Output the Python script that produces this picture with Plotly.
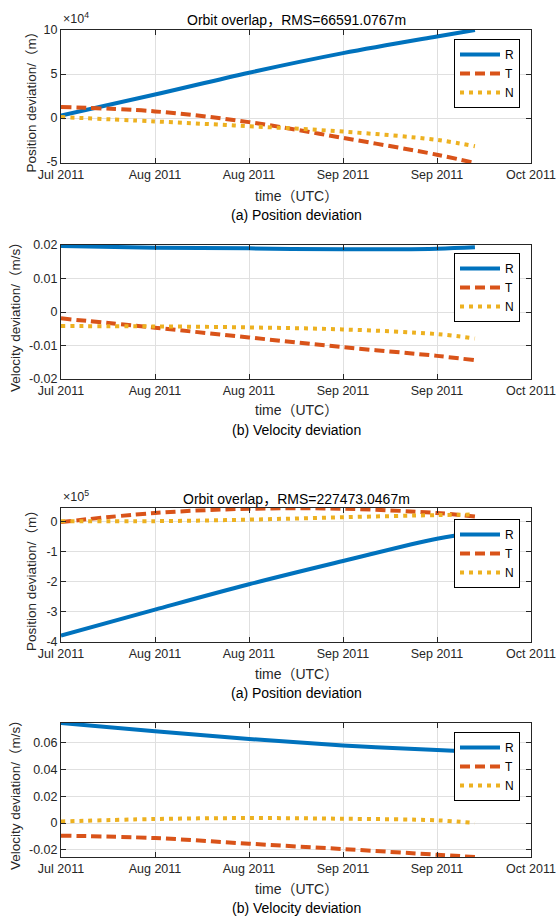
import plotly.graph_objects as go

# ---------------- data ----------------
epochs = ["2011-07-20 00:00", "2011-08-03 14:24", "2011-08-18 04:48",
          "2011-09-01 19:12", "2011-09-16 09:36", "2011-09-22 07:00"]

# case 1 position deviation (m)
p1_R = [3000, 26700, 51500, 73700, 92700, 100000]
p1_T = [12600, 7600, -4600, -22500, -41600, -51000]
p1_N = [1100, -3800, -9200, -15300, -24800, -32000]
# case 1 velocity deviation (m/s)
v1_R = [0.0197, 0.0192, 0.0190, 0.0187, 0.0189, 0.0193]
v1_T = [-0.0019, -0.0047, -0.0076, -0.0105, -0.0131, -0.0144]
v1_N = [-0.0042, -0.0043, -0.0046, -0.0052, -0.0066, -0.0079]
# case 2 position deviation (m)
p2_R = [-379000, -293000, -209000, -132000, -58000, -40000]
p2_T = [-3000, 27000, 41000, 41000, 27000, 15000]
p2_N = [0, 0, 5000, 13000, 20000, 22000]
# case 2 velocity deviation (m/s)
v2_R = [0.0745, 0.0683, 0.0626, 0.0578, 0.0543, 0.0530]
v2_T = [-0.0094, -0.0112, -0.0154, -0.0194, -0.0236, -0.0253]
v2_N = [0.0012, 0.0030, 0.0037, 0.0032, 0.0020, 0.0000]

series_names = ["R", "T", "N"]
titles = ["Orbit overlap，RMS=66591.0767m", None, "Orbit overlap，RMS=227473.0467m", None]
ylabels = ["Position deviation/（m）", "Velocity deviation/（m/s）",
           "Position deviation/（m）", "Velocity deviation/（m/s）"]
xlabel = "time（UTC）"
subtitles = ["(a) Position deviation", "(b) Velocity deviation",
             "(a) Position deviation", "(b) Velocity deviation"]
exponents = ["×10<sup>4</sup>", None, "×10<sup>5</sup>", None]

xtick_vals = ["2011-07-20 00:00", "2011-08-03 14:24", "2011-08-18 04:48",
              "2011-09-01 19:12", "2011-09-16 09:36", "2011-10-01 00:00"]

y_ticks = [
    ([-50000, 0, 50000, 100000], ["-5", "0", "5", "10"]),
    ([-0.02, -0.01, 0, 0.01, 0.02], ["-0.02", "-0.01", "0", "0.01", "0.02"]),
    ([-400000, -300000, -200000, -100000, 0], ["-4", "-3", "-2", "-1", "0"]),
    ([-0.02, 0, 0.02, 0.04, 0.06], ["-0.02", "0", "0.02", "0.04", "0.06"]),
]
y_ranges = [[-51000, 100000], [-0.02, 0.02], [-400000, 43500], [-0.0253, 0.0745]]

panels = [(p1_R, p1_T, p1_N), (v1_R, v1_T, v1_N), (p2_R, p2_T, p2_N), (v2_R, v2_T, v2_N)]

# ---------------- layout helpers ----------------
W, H = 556, 918
def px(x): return x / W
def py(y): return 1 - y / H

plot_left, plot_right = 61, 531
plot_tb = [(30, 163), (245, 379), (508, 642), (723, 857)]
legend_top = [39, 253, 519, 732]
title_y = [20.5, None, 499, None]
xtitle_y = [196, 410, 674, 889]
sub_y = [215, 430, 693, 908]
ylabel_x = [31, 15, 31, 15]

colors = ["#0072BD", "#D95319", "#EDB120"]
dashes = ["solid", "10px,5px", "4px,5px"]
FONT = "Liberation Sans, Arial, Noto Sans CJK SC, sans-serif"
TXT = "#262626"

fig = go.Figure()
layout = dict(width=W, height=H, margin=dict(l=0, r=0, t=0, b=0, autoexpand=False),
              paper_bgcolor="white", plot_bgcolor="white",
              font=dict(family=FONT, size=12, color=TXT), annotations=[])

for i, data in enumerate(panels):
    n = i + 1
    xa = "x" if n == 1 else f"x{n}"
    ya = "y" if n == 1 else f"y{n}"
    lg = "legend" if n == 1 else f"legend{n}"
    for s, name in enumerate(series_names):
        fig.add_trace(go.Scatter(
            x=epochs, y=data[s], name=name, mode="lines",
            line=dict(color=colors[s], width=4, dash=dashes[s], shape="spline"),
            xaxis=xa, yaxis=ya, legend=lg))
    top, bot = plot_tb[i]
    axis_common = dict(showline=True, linecolor=TXT, linewidth=1, mirror="ticks",
                       ticks="inside", ticklen=5, tickcolor=TXT, tickwidth=1,
                       showgrid=True, gridcolor="#e0e0e0", gridwidth=1, automargin=False,
                       zeroline=False, tickfont=dict(size=12.5, color=TXT, family=FONT))
    layout["xaxis" if n == 1 else f"xaxis{n}"] = dict(
        axis_common, domain=[px(plot_left), px(plot_right)], anchor=ya, type="date",
        range=["2011-07-20 00:00", "2011-10-01 00:00"], tickvals=xtick_vals,
        tickformat="%b %Y")
    layout["yaxis" if n == 1 else f"yaxis{n}"] = dict(
        axis_common, domain=[py(bot), py(top)], anchor=xa, range=y_ranges[i],
        tickvals=y_ticks[i][0], ticktext=y_ticks[i][1])
    layout[lg] = dict(x=px(520), y=py(legend_top[i]), xanchor="right", yanchor="top",
                      bgcolor="white", bordercolor="black", borderwidth=1,
                      font=dict(size=12, color="black", family=FONT),
                      itemwidth=40, tracegroupgap=0)
    cx = px((plot_left + plot_right) / 2)
    if titles[i]:
        layout["annotations"].append(dict(text=titles[i], x=cx, y=py(title_y[i]),
            xref="paper", yref="paper", showarrow=False, xanchor="center", yanchor="middle",
            font=dict(size=14, color="black")))
    if exponents[i]:
        layout["annotations"].append(dict(text=exponents[i], x=px(plot_left), y=py(top - 2),
            xref="paper", yref="paper", showarrow=False, xanchor="left", yanchor="bottom",
            font=dict(size=12.5, color=TXT)))
    layout["annotations"].append(dict(text=xlabel, x=cx, y=py(xtitle_y[i]),
        xref="paper", yref="paper", showarrow=False, xanchor="center", yanchor="middle",
        font=dict(size=14, color=TXT)))
    layout["annotations"].append(dict(text=subtitles[i], x=cx, y=py(sub_y[i]),
        xref="paper", yref="paper", showarrow=False, xanchor="center", yanchor="middle",
        font=dict(size=14, color="black")))
    layout["annotations"].append(dict(text=ylabels[i], x=px(ylabel_x[i]), y=py((top + bot) / 2 + 2),
        xref="paper", yref="paper", showarrow=False, xanchor="center", yanchor="middle",
        textangle=-90, font=dict(size=13.5, color=TXT)))

fig.update_layout(**layout)
fig.write_html("out.html", config={"displayModeBar": False},
               post_script="document.body.style.margin='0';")
